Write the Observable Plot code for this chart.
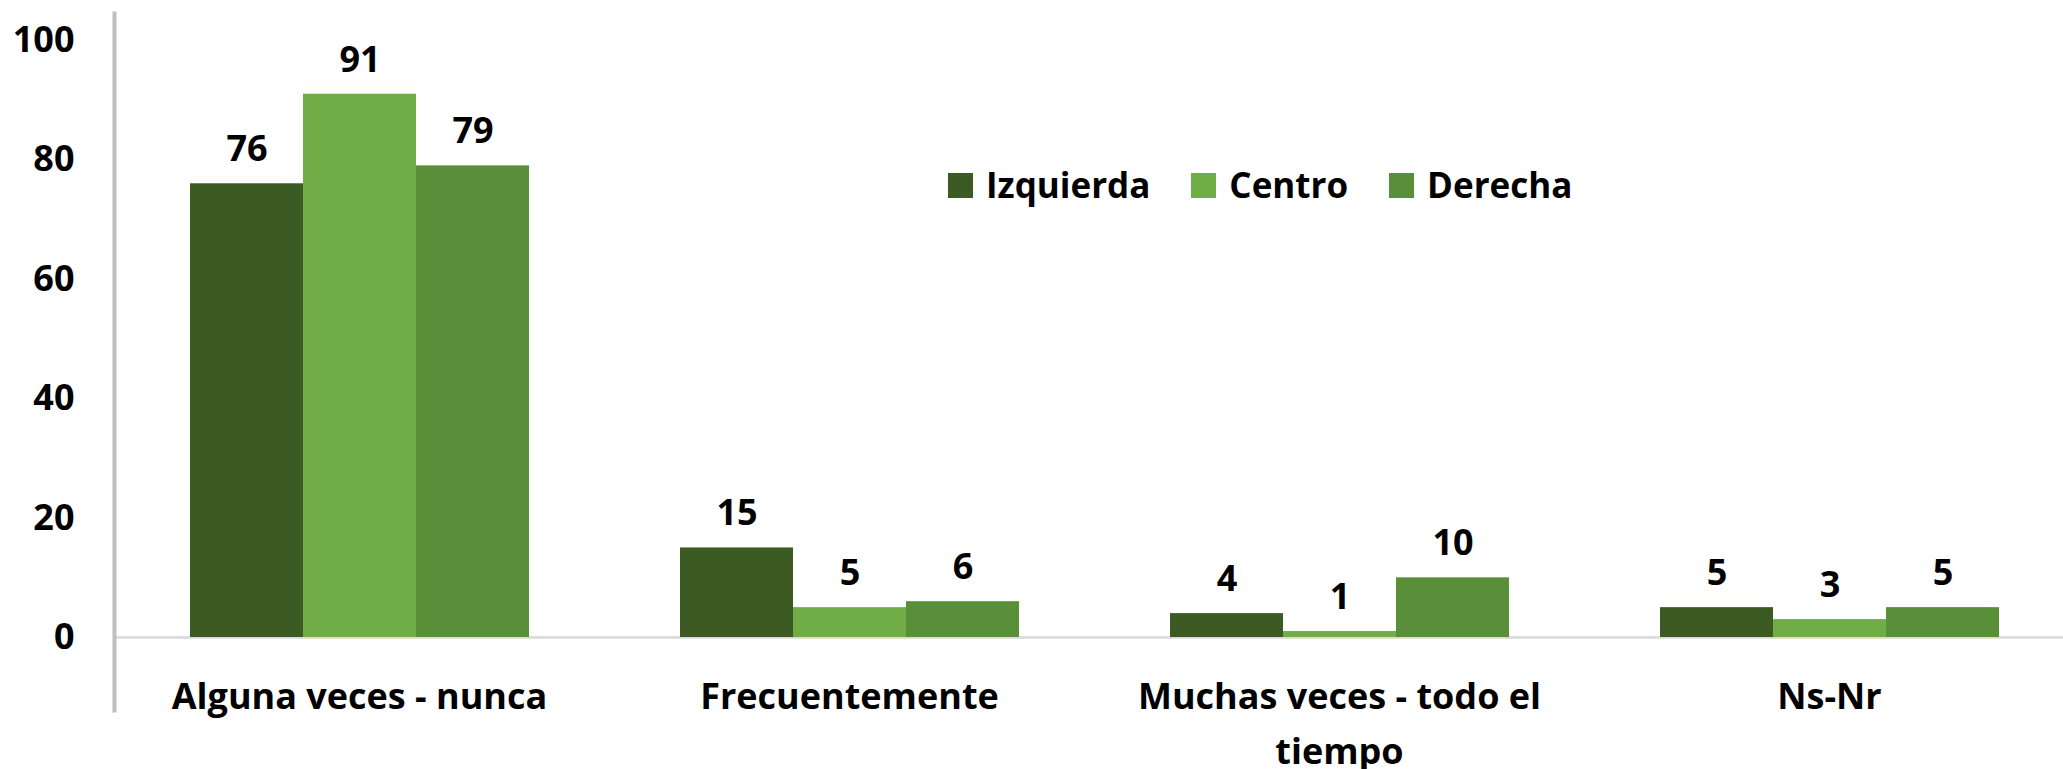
<!DOCTYPE html>
<html><head><meta charset="utf-8">
<script src="https://cdn.jsdelivr.net/npm/d3@7"></script>
<script src="https://cdn.jsdelivr.net/npm/@observablehq/plot@0.6"></script>
<style>
body{margin:0;background:#fff;}
#wrap{position:relative;width:2063px;height:769px;overflow:hidden;}
#legend{position:absolute;left:948px;top:165px;}
#legend span{margin-right:41px !important;}
#legend span svg{margin-right:13px !important;}
</style></head><body><div id="wrap"><div id="legend"></div></div>
<script>
const categories = ["Alguna veces - nunca", "Frecuentemente", "Muchas veces - todo el tiempo", "Ns-Nr"];
const categoryTickLabels = ["Alguna veces - nunca", "Frecuentemente", "Muchas veces - todo el\ntiempo", "Ns-Nr"];
const series = ["Izquierda", "Centro", "Derecha"];
const izquierda = [76, 15, 4, 5];
const centro = [91, 5, 1, 3];
const derecha = [79, 6, 10, 5];
const colors = ["#3b5a24", "#70ad47", "#5a8f3a"];
const yTicks = [0, 20, 40, 60, 80, 100];

const values = {Izquierda: izquierda, Centro: centro, Derecha: derecha};
const data = categories.flatMap((c, i) => series.map(s => ({category: c, series: s, value: values[s][i]})));

const font = "'Open Sans', Lato, sans-serif";
const plot = Plot.plot({
  width: 2063, height: 769,
  marginTop: 13, marginBottom: 59, marginLeft: 114, marginRight: 0,
  style: {fontFamily: font, fontSize: "36px", fontWeight: 700, color: "#000", background: "#fff", overflow: "visible"},
  fx: {domain: categories, range: [114, 2074], padding: 0, label: null},
  x: {domain: series, paddingInner: 0, paddingOuter: 0.655, axis: null},
  y: {domain: [0, 100], range: [637, 40], label: null},
  color: {domain: series, range: colors},
  marks: [
    Plot.ruleY([0], {stroke: "#d9d9d9", strokeWidth: 2.5}),
    Plot.barY(data, {fx: "category", x: "series", y: "value", fill: "series"}),
    Plot.text(data, {fx: "category", x: "series", y: "value", text: d => String(d.value), dy: -34, fill: "#000"}),
    Plot.axisY({ticks: yTicks, tickSize: 0, tickPadding: 40, label: null}),
    Plot.frame({anchor: "left", facetAnchor: "left", stroke: "#bfbfbf", strokeWidth: 4}),
    Plot.axisFx({anchor: "bottom", tickSize: 0, tickPadding: 0, dy: -40, label: null, lineHeight: 1.52,
      tickFormat: c => categoryTickLabels[categories.indexOf(c)]})
  ]
});
document.getElementById("wrap").prepend(plot);

const legend = Plot.legend({
  color: {domain: series, range: colors},
  legend: "swatches", swatchSize: 25,
  style: {fontFamily: font, fontSize: "35px", fontWeight: 700, color: "#000", lineHeight: "40px"}
});
document.getElementById("legend").appendChild(legend);
</script></body></html>
